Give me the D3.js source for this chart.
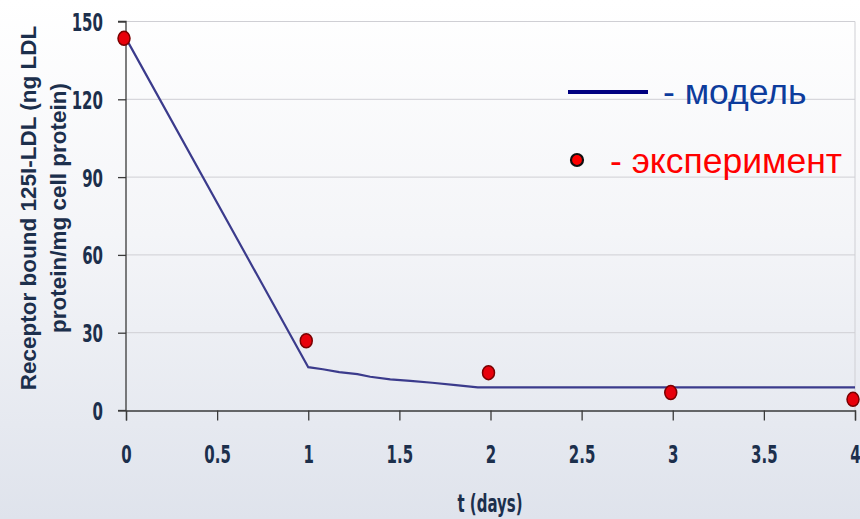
<!DOCTYPE html>
<html>
<head>
<meta charset="utf-8">
<script src="https://cdn.jsdelivr.net/npm/d3@7"></script>
<style>
  html, body { margin: 0; padding: 0; }
  svg { display: block; }
</style>
</head>
<body>
<svg width="860" height="519"></svg>
<script>
// model curve
const modelT = [0, 1, 1.08, 1.17, 1.27, 1.34, 1.45, 1.56, 1.68, 1.81, 1.93, 2, 3, 4];
const modelY = [143.5, 16.7, 15.9, 14.8, 14.0, 13.0, 12.0, 11.4, 10.7, 9.8, 8.9, 8.9, 8.9, 8.9];
// experiment points
const expT = [0, 1, 2, 3, 4];
const expY = [143.5, 26.9, 14.6, 6.9, 4.3];
const xTicks = [0, 0.5, 1, 1.5, 2, 2.5, 3, 3.5, 4];
const yTicks = [0, 30, 60, 90, 120, 150];

const width = 860, height = 519;
const svg = d3.select('svg');

const defs = svg.append('defs');
const grad = defs.append('linearGradient').attr('id', 'bg')
  .attr('x1', 0).attr('y1', 0).attr('x2', 0).attr('y2', 1);
grad.append('stop').attr('offset', '0%').attr('stop-color', '#ffffff');
grad.append('stop').attr('offset', '45%').attr('stop-color', '#f4f5f8');
grad.append('stop').attr('offset', '100%').attr('stop-color', '#dfe3ec');
svg.append('rect').attr('width', width).attr('height', height).attr('fill', 'url(#bg)');

const x = d3.scaleLinear().domain([0, 4]).range([126, 855]);
const y = d3.scaleLinear().domain([0, 150]).range([410.5, 21.5]);

const tickFont = '"DejaVu Sans", sans-serif';
const squeeze = 0.6;
const textColor = '#1c2f4c';

// grid
svg.append('g')
  .selectAll('line').data(yTicks.filter(d => d > 0)).join('line')
  .attr('x1', x(0)).attr('x2', x(4))
  .attr('y1', d => y(d)).attr('y2', d => y(d))
  .attr('stroke', '#cfcfd4').attr('stroke-width', 1);
svg.append('line')
  .attr('x1', x(4)).attr('x2', x(4)).attr('y1', y(150)).attr('y2', y(0))
  .attr('stroke', '#cfcfd4');

// axes
const yAxis = svg.append('g')
  .attr('transform', `translate(${x(0)},0)`)
  .call(d3.axisLeft(y).tickValues(yTicks).tickSize(8).tickFormat(d3.format('d')));
const xAxis = svg.append('g')
  .attr('transform', `translate(0,${y(0)})`)
  .call(d3.axisBottom(x).tickValues(xTicks).tickSize(10).tickFormat(d => String(d)));

[xAxis, yAxis].forEach(g => {
  g.select('.domain').attr('stroke', '#3a3a3a').attr('stroke-width', 1.3);
  g.selectAll('.tick line').attr('stroke', '#3a3a3a').attr('stroke-width', 1.3);
  g.selectAll('.tick text')
    .attr('fill', textColor)
    .style('font-family', tickFont)
    .style('font-weight', 'bold')
    .style('font-size', '25px');
});
yAxis.select('.domain').attr('d', `M-8,${y(150)}H0V${y(0)}`);
yAxis.selectAll('.tick text')
  .attr('x', 0).attr('dy', '0.36em')
  .attr('transform', `translate(-23,0) scale(${squeeze},1)`);
xAxis.selectAll('.tick text')
  .attr('y', 0).attr('dy', '0.71em')
  .attr('transform', `translate(0,35) scale(${squeeze},1)`);
// axis line extends left of origin
svg.append('line')
  .attr('x1', x(0) - 8).attr('x2', x(0)).attr('y1', y(0)).attr('y2', y(0))
  .attr('stroke', '#3a3a3a').attr('stroke-width', 1.3);

// axis titles
svg.append('text')
  .attr('transform', `translate(490,512) scale(${squeeze},1)`)
  .attr('text-anchor', 'middle')
  .attr('fill', textColor)
  .style('font-family', tickFont).style('font-weight', 'bold').style('font-size', '25px')
  .text('t (days)');

const yTitle = svg.append('text')
  .attr('transform', 'translate(0,208) rotate(-90)')
  .attr('text-anchor', 'middle')
  .attr('fill', textColor)
  .style('font-family', '"Liberation Sans", Arial, sans-serif')
  .style('font-weight', 'bold')
  .style('font-size', '22.5px');
yTitle.append('tspan').attr('x', 0).attr('y', 36).text('Receptor bound 125I-LDL (ng LDL');
yTitle.append('tspan').attr('x', 0).attr('y', 66).text('protein/mg cell protein)');

// model line
const line = d3.line().x(d => x(d[0])).y(d => y(d[1]));
svg.append('path')
  .datum(d3.zip(modelT, modelY))
  .attr('d', line)
  .attr('fill', 'none')
  .attr('stroke', '#3b3b8c')
  .attr('stroke-width', 2.2);

// experiment points
svg.append('g')
  .selectAll('ellipse').data(d3.zip(expT, expY)).join('ellipse')
  .attr('cx', d => x(d[0]) - 2)
  .attr('cy', d => y(d[1]))
  .attr('rx', 6).attr('ry', 7)
  .attr('fill', '#e8000b')
  .attr('stroke', '#7a0000')
  .attr('stroke-width', 1.5);

// legend
const legend = svg.append('g');
legend.append('line')
  .attr('x1', 568).attr('x2', 648).attr('y1', 92).attr('y2', 92)
  .attr('stroke', '#000080').attr('stroke-width', 4);
legend.append('text')
  .attr('x', 663).attr('y', 104)
  .attr('fill', '#0d3c9c')
  .style('font-family', '"Liberation Sans", Arial, sans-serif')
  .style('font-size', '35.5px')
  .text('- модель');
legend.append('circle')
  .attr('cx', 577).attr('cy', 160).attr('r', 6)
  .attr('fill', '#ff0000').attr('stroke', '#111').attr('stroke-width', 2.2);
legend.append('text')
  .attr('x', 610).attr('y', 173)
  .attr('fill', '#ff0000')
  .style('font-family', '"Liberation Sans", Arial, sans-serif')
  .style('font-size', '35.5px')
  .text('- эксперимент');
</script>
</body>
</html>
